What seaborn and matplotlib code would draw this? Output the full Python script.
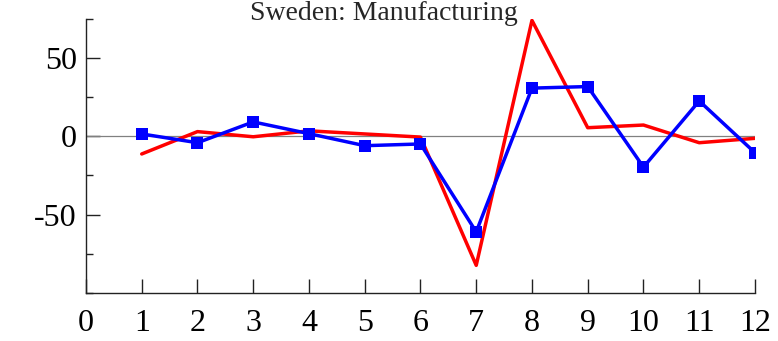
import matplotlib
matplotlib.use("Agg")
import matplotlib.pyplot as plt
import seaborn as sns
import pandas as pd
from matplotlib.ticker import MultipleLocator

# Monthly values, Sweden manufacturing
months = [1, 2, 3, 4, 5, 6, 7, 8, 9, 10, 11, 12]
red_series = [-11.3, 3.0, -0.3, 3.5, 1.5, -0.5, -82.5, 74.1, 5.5, 7.2, -4.1, -1.3]
blue_series = [1.5, -4.1, 9.2, 1.7, -6.0, -4.9, -61.1, 30.8, 31.8, -19.7, 22.6, -10.5]
x_ticks = list(range(0, 13))
y_ticks = [-50, 0, 50]
title = "Sweden: Manufacturing"

sns.set_style("ticks")
plt.rcParams["font.family"] = ["Liberation Serif", "DejaVu Serif"]
plt.rcParams["axes.unicode_minus"] = False

df_red = pd.DataFrame({"month": months, "value": red_series})
df_blue = pd.DataFrame({"month": months, "value": blue_series})

fig = plt.figure(figsize=(7.78, 3.41), dpi=100)
ax = fig.add_axes([0.1105, 0.1416, 0.8599, 0.8027])

ax.axhline(0, color="#808080", lw=0.9, zorder=1)
sns.lineplot(data=df_red, x="month", y="value", ax=ax, color="#ff0000",
             lw=2.5, zorder=3)
sns.lineplot(data=df_blue, x="month", y="value", ax=ax, color="#0000ff",
             lw=2.5, marker="s", markersize=9, markeredgewidth=0, zorder=4)

ax.set_xlim(0, 12)
ax.set_ylim(-100, 75)
ax.set_xticks(x_ticks)
ax.set_yticks(y_ticks)
ax.yaxis.set_minor_locator(MultipleLocator(25))
ax.set_xlabel("")
ax.set_ylabel("")

for side in ("top", "right"):
    ax.spines[side].set_visible(False)
for side in ("left", "bottom"):
    ax.spines[side].set_color("#222222")
    ax.spines[side].set_linewidth(1.0)

ax.tick_params(axis="x", direction="in", length=10, width=1.0,
               labelsize=23, pad=12, colors="#222222", labelcolor="black")
ax.tick_params(axis="y", which="major", direction="in", length=10, width=1.0,
               labelsize=23, pad=6.5, colors="#222222", labelcolor="black")
ax.tick_params(axis="y", which="minor", direction="in", length=5, width=1.0,
               colors="#222222")

fig.text(0.494, 0.997, title, ha="center", va="top", fontsize=20)

fig.savefig("out.png", dpi=100)
